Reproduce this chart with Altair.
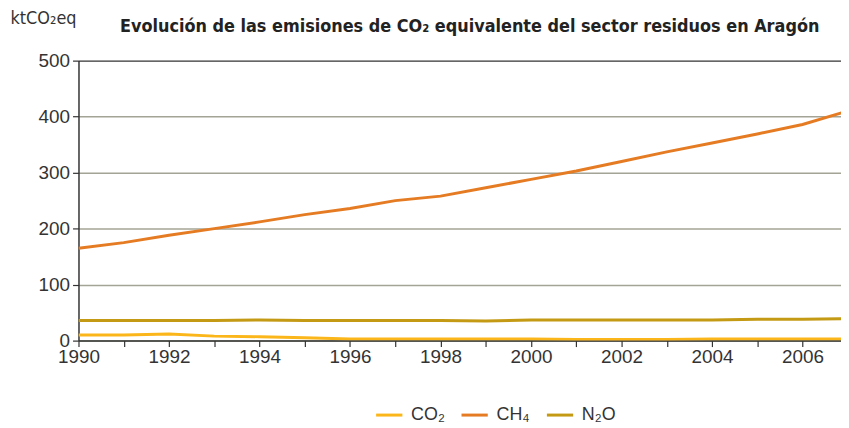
import altair as alt
import pandas as pd

years = list(range(1990, 2008))
co2 = [10, 10, 12, 8, 7, 5, 3, 3, 3, 3, 3, 2, 2, 2, 3, 3, 3, 3]
ch4 = [165, 175, 188, 200, 212, 225, 236, 250, 258, 273, 288, 303, 320, 337, 353, 369, 386, 410]
n2o = [36, 36, 36, 36, 37, 36, 36, 36, 36, 35, 37, 37, 37, 37, 37, 38, 38, 39]

series = ["CO₂", "CH₄", "N₂O"]
colors = ["#FBB61A", "#E57C24", "#C49A14"]

rows = []
for name, vals in zip(series, [co2, ch4, n2o]):
    for y, v in zip(years, vals):
        rows.append({"year": y, "value": v, "gas": name})
df = pd.DataFrame(rows)

FONT = "Liberation Sans"
NARROW = "Liberation Sans Narrow, DejaVu Sans Condensed, sans-serif"

lines = alt.Chart(df).mark_line(strokeWidth=3, clip=True).encode(
    x=alt.X("year:Q", scale=alt.Scale(domain=[1990, 2006.85], nice=False, zero=False),
            axis=alt.Axis(values=list(range(1990, 2007)), format="d",
                          labelExpr="datum.value % 2 == 0 ? datum.label : ''",
                          grid=False, title=None, domainColor="#333", domainWidth=1.5,
                          tickColor="#333", tickSize=6, tickWidth=1.2,
                          labelFont=FONT, labelFontSize=19, labelColor="#333",
                          labelPadding=1, labelFlush=False)),
    y=alt.Y("value:Q", scale=alt.Scale(domain=[0, 500], nice=False),
            axis=alt.Axis(values=[0, 100, 200, 300, 400, 500], grid=True,
                          gridColor={"condition": {"test": "datum.value === 500", "value": "#333"}, "value": "#a4a496"},
                          gridWidth=1.5,
                          domainColor="#333", domainWidth=1.5,
                          tickColor="#333", tickSize=6, tickWidth=1.2,
                          labelFont=FONT, labelFontSize=19, labelColor="#333", labelPadding=3,
                          title="ktCO₂eq", titleAngle=0, titleAlign="left", titleBaseline="alphabetic",
                          titleX=-69, titleY=-37, titleFont=NARROW, titleFontSize=18,
                          titleFontWeight="normal", titleColor="#333")),
    color=alt.Color("gas:N", scale=alt.Scale(domain=series, range=colors),
                    legend=alt.Legend(title=None, orient="none", direction="horizontal",
                                      legendX=298, legendY=342, symbolType="stroke",
                                      symbolStrokeWidth=3, symbolSize=700,
                                      labelFont=FONT, labelFontSize=18, labelColor="#333",
                                      columnPadding=10, labelOffset=7, padding=0)),
)

chart = lines.properties(
    width=768, height=282,
    autosize=alt.AutoSizeParams(type="none"),
    padding={"left": 71, "top": 51.5, "right": 0, "bottom": 85},
    title=alt.TitleParams("Evolución de las emisiones de CO₂ equivalente del sector residuos en Aragón",
                          font=NARROW, fontSize=18, fontWeight="bold", color="#222",
                          anchor="middle", baseline="alphabetic", dx=10, dy=40, offset=0),
).configure_view(stroke=None)

chart.save("out.html", embed_options={"renderer": "svg", "actions": False})
